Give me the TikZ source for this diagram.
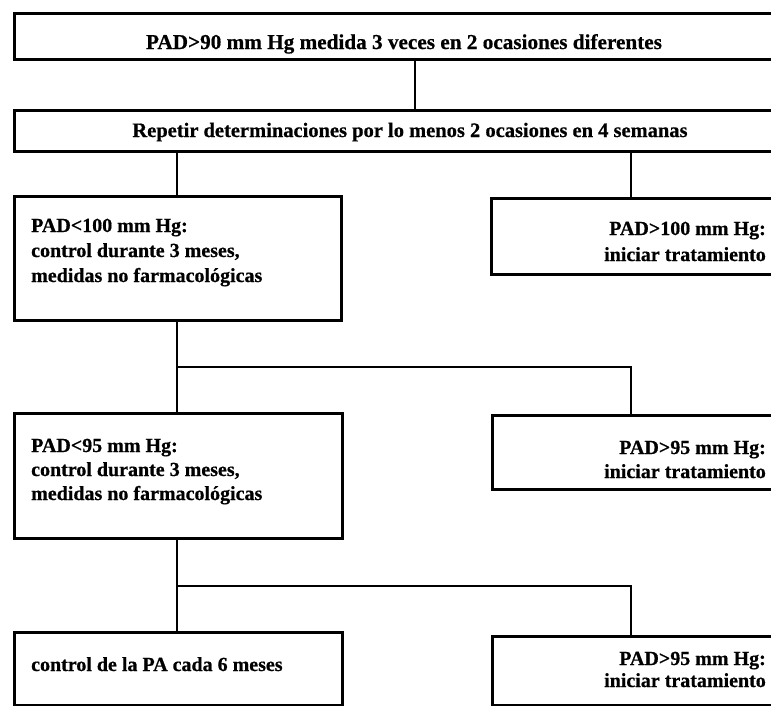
\documentclass[tikz,border=0pt]{standalone}
\usepackage{fontspec}
\setmainfont{Liberation Serif}[BoldFeatures={FakeBold=0.6}]
\begin{document}
\begin{tikzpicture}[x=1pt,y=-1pt,
  box/.style={draw, line width=2.8pt, rectangle, inner sep=0pt, anchor=north west},
  conn/.style={line width=2.6pt},
  txt/.style={inner sep=0pt, font=\bfseries\fontsize{20}{24}\selectfont}]
\useasboundingbox (0,0) rectangle (771,705);
\clip (0,0) rectangle (771,705);
% boxes
\node[box, minimum width=800pt, minimum height=46pt] (b0) at (13,12) {};
\node[box, minimum width=800pt, minimum height=41pt] (b1) at (13,109) {};
\node[box, minimum width=327pt, minimum height=124pt] (bA) at (13,195) {};
\node[box, minimum width=400pt, minimum height=76pt] (bB) at (490,197) {};
\node[box, minimum width=328pt, minimum height=125pt] (bC) at (13,412) {};
\node[box, minimum width=400pt, minimum height=74pt] (bD) at (491,414) {};
\node[box, minimum width=328pt, minimum height=73pt] (bE) at (13,631) {};
\node[box, minimum width=400pt, minimum height=69pt] (bF) at (491,635) {};
% connector guides
\coordinate (jm) at (415,0);
\coordinate (cl) at (177,0);
\coordinate (cr) at (631,0);
\coordinate (h1) at (0,367);
\coordinate (h2) at (0,586);
\draw[conn] (jm |- b0.south) -- (jm |- b1.north);
\draw[conn] (cl |- b1.south) -- (cl |- bA.north);
\draw[conn] (cr |- b1.south) -- (cr |- bB.north);
\draw[conn] (cl |- bA.south) -- (cl |- bC.north);
\draw[conn] (cl |- h1) -- (cr |- h1) -- (cr |- bD.north);
\draw[conn] (cl |- bC.south) -- (cl |- bE.north);
\draw[conn] (cl |- h2) -- (cr |- h2) -- (cr |- bF.north);
% texts
\node[txt, anchor=base, font=\bfseries\fontsize{21.2}{24}\selectfont] (t0) at (404,49) {PAD>90 mm Hg medida 3 veces en 2 ocasiones diferentes};
\node[txt, anchor=base, font=\bfseries\fontsize{20.5}{24}\selectfont] (t1) at (410,137) {Repetir determinaciones por lo menos 2 ocasiones en 4 semanas};
\node[txt, anchor=base west] (tA1) at (31,232) {PAD<100 mm Hg:};
\node[txt, anchor=base west] (tA2) at (31,257) {control durante 3 meses,};
\node[txt, anchor=base west] (tA3) at (31,282) {medidas no farmacológicas};
\node[txt, anchor=base east] (tB1) at (766,235) {PAD>100 mm Hg:};
\node[txt, anchor=base east] (tB2) at (766,261) {iniciar tratamiento};
\node[txt, anchor=base west] (tC1) at (31,452) {PAD<95 mm Hg:};
\node[txt, anchor=base west] (tC2) at (31,476) {control durante 3 meses,};
\node[txt, anchor=base west] (tC3) at (31,500) {medidas no farmacológicas};
\node[txt, anchor=base east] (tD1) at (766,454) {PAD>95 mm Hg:};
\node[txt, anchor=base east] (tD2) at (766,478) {iniciar tratamiento};
\node[txt, anchor=base west] (tE1) at (31,671) {control de la PA cada 6 meses};
\node[txt, anchor=base east] (tF1) at (766,665) {PAD>95 mm Hg:};
\node[txt, anchor=base east] (tF2) at (766,687) {iniciar tratamiento};
\end{tikzpicture}
\end{document}
